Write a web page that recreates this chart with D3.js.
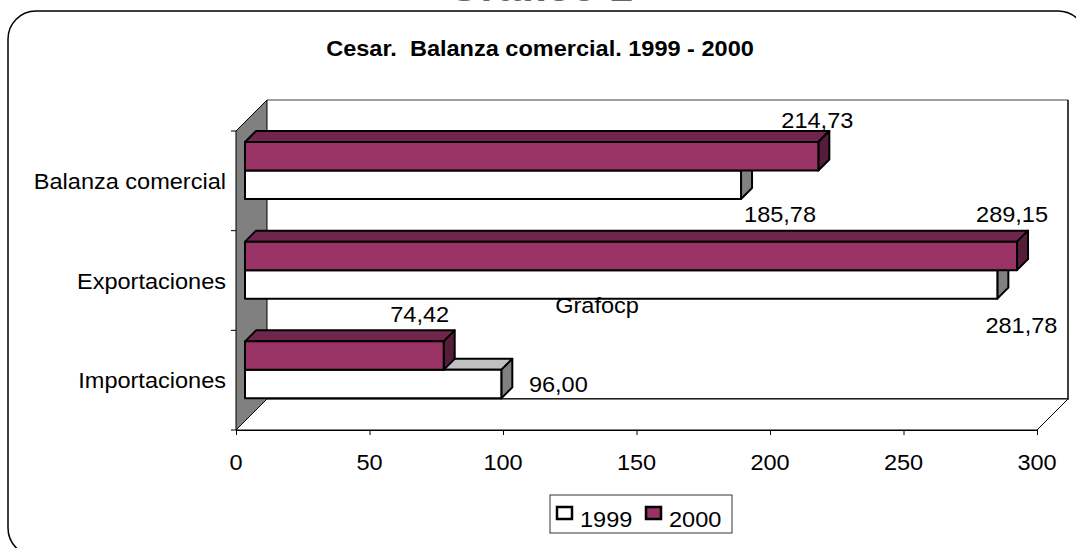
<!DOCTYPE html>
<html>
<head>
<meta charset="utf-8">
<script src="https://cdn.jsdelivr.net/npm/d3@7"></script>
<style>
	body { margin: 0; background: #fff; }
	svg { display: block; font-family: "Liberation Sans", Arial, sans-serif; }
	text { white-space: pre; }
</style>
</head>
<body>
<div id="plot"></div>
<script>
// chart values
var categories = ["Balanza comercial", "Exportaciones", "Importaciones"];
var seriesNames = ["1999", "2000"];
var values1999 = [185.78, 281.78, 96.00];
var values2000 = [214.73, 289.15, 74.42];
var xTicks = [0, 50, 100, 150, 200, 250, 300];
var chartTitle = "Cesar.  Balanza comercial. 1999 - 2000";
var topText = "Gráfico 1";
var watermark = "Grafocp";

var fmt = function (v) { return d3.format(".2f")(v).replace(".", ","); };

var width = 1076, height = 548;
var sx = 1.07; // text is drawn a bit wider than tall
var fs = 22;

var svg = d3.select("#plot")
	.append("svg")
	.attr("width", width)
	.attr("height", height);

function txt(g, s, x, y, size, anchor, weight) {
	return g.append("text")
		.attr("transform", "translate(" + x + "," + y + ") scale(" + sx + ",1)")
		.attr("text-anchor", anchor || "start")
		.attr("font-size", size)
		.attr("font-weight", weight || "normal")
		.attr("fill", "#000")
		.attr("xml:space", "preserve")
		.text(s);
}

//outer frame, runs off the picture on the right and bottom
svg.append("rect")
	.attr("x", 8).attr("y", 11)
	.attr("width", 1078).attr("height", 545)
	.attr("rx", 28).attr("ry", 28)
	.attr("fill", "none").attr("stroke", "#000").attr("stroke-width", 1.5);

//heading above the frame, cut by the top of the picture as in the original
txt(svg, topText, 540, 1, 40, "middle", "bold").attr("fill", "#666");
txt(svg, chartTitle, 540, 56, fs, "middle", "bold");

//scales
var xScale = d3.scaleLinear().domain([0, 300]).range([236, 1037]);
var yScale = d3.scaleBand().domain(categories).range([131, 430]);
var inner = d3.scaleBand().domain(["2000", "1999"]).range([20, 77]);

var depth = 31;     // floor / wall depth
var barOff = 9;     // bar front plane offset into the depth
var barDepth = 11;  // bar thickness along depth

var x0 = xScale(0), x1 = xScale(300), yTop = yScale.range()[0], yBot = yScale.range()[1];

var walls = svg.append("g");

//back wall
walls.append("rect")
	.attr("x", x0 + depth).attr("y", yTop - depth)
	.attr("width", x1 - x0).attr("height", yBot - yTop)
	.attr("fill", "#fff");
walls.append("line")
	.attr("x1", x0 + depth).attr("x2", x1 + depth)
	.attr("y1", yTop - depth).attr("y2", yTop - depth)
	.attr("stroke", "#808080").attr("stroke-width", 1.5);
walls.append("polyline")
	.attr("points", [[x1 + depth, yTop - depth], [x1 + depth, yBot - depth], [x0 + depth, yBot - depth]].join(" "))
	.attr("fill", "none").attr("stroke", "#000").attr("stroke-width", 1.5);

//floor
walls.append("polygon")
	.attr("points", [[x0, yBot], [x1, yBot], [x1 + depth, yBot - depth], [x0 + depth, yBot - depth]].join(" "))
	.attr("fill", "#fff").attr("stroke", "#000").attr("stroke-width", 1);

//side wall
walls.append("polygon")
	.attr("points", [[x0, yTop], [x0 + depth, yTop - depth], [x0 + depth, yBot - depth], [x0, yBot]].join(" "))
	.attr("fill", "#808080").attr("stroke", "#000").attr("stroke-width", 1);

//x axis along the front edge of the floor
var xAxis = svg.append("g")
	.attr("transform", "translate(0," + yBot + ")")
	.call(d3.axisBottom(xScale).tickValues(xTicks).tickSize(5).tickSizeOuter(0).tickFormat(d3.format("d")));
xAxis.select(".domain").attr("stroke", "#000");
xAxis.selectAll("text").remove();
xTicks.forEach(function (t) { txt(svg, String(t), xScale(t), yBot + 40, fs, "middle"); });

//category axis ticks on the front edge of the side wall
var yTickVals = [yTop].concat(categories.map(function (c) { return yScale(c) + yScale.bandwidth(); }));
svg.append("g").selectAll("line")
	.data(yTickVals)
	.enter().append("line")
	.attr("x1", x0 - 5).attr("x2", x0)
	.attr("y1", function (d) { return d; }).attr("y2", function (d) { return d; })
	.attr("stroke", "#000");

categories.forEach(function (c) {
	txt(svg, c, 226, yScale(c) + yScale.bandwidth() / 2 + 8, fs, "end");
});

//bars
var colours = {
	"1999": { front: "#ffffff", top: "#c0c0c0", side: "#808080" },
	"2000": { front: "#993366", top: "#70264c", side: "#561d3a" }
};

function drawBar(g, cat, key, v) {
	var c = colours[key];
	var xa = xScale(0) + barOff, xb = xScale(v) + barOff;
	var ya = yScale(cat) + inner(key) - barOff, yb = ya + inner.bandwidth();
	var d = barDepth;
	function poly(pts, fill) {
		g.append("polygon").attr("points", pts.join(" ")).attr("fill", fill)
			.attr("stroke", "#000").attr("stroke-width", 2).attr("stroke-linejoin", "round");
	}
	poly([[xa, ya], [xa + d, ya - d], [xb + d, ya - d], [xb, ya]], c.top);
	poly([[xb, ya], [xb + d, ya - d], [xb + d, yb - d], [xb, yb]], c.side);
	poly([[xa, ya], [xb, ya], [xb, yb], [xa, yb]], c.front);
}

var bars = svg.append("g");
categories.forEach(function (cat, i) {
	drawBar(bars, cat, "1999", values1999[i]); // lower bar first, upper bar hides its top
	drawBar(bars, cat, "2000", values2000[i]);
});

//data labels, nudged the way they sit in the original
var nudge2000 = [[-1, -14], [-5, -20], [-24, -19]];
var nudge1999 = [[39, 23], [24, 34], [57, -6]];
var labels = svg.append("g");
categories.forEach(function (cat, i) {
	var top = yScale(cat) + inner("2000") - barOff;
	txt(labels, fmt(values2000[i]), xScale(values2000[i]) + barOff + nudge2000[i][0], top + nudge2000[i][1], fs, "middle");
	var bot = yScale(cat) + inner("1999") + inner.bandwidth() - barOff;
	txt(labels, fmt(values1999[i]), xScale(values1999[i]) + barOff + nudge1999[i][0], bot + nudge1999[i][1], fs, "middle");
});

txt(svg, watermark, 597, 313, fs, "middle");

//legend
var legend = svg.append("g");
legend.append("rect")
	.attr("x", 550).attr("y", 495).attr("width", 182).attr("height", 38)
	.attr("fill", "#fff").attr("stroke", "#333").attr("stroke-width", 1);
var legX = [557, 646];
seriesNames.forEach(function (s, i) {
	legend.append("rect")
		.attr("x", legX[i]).attr("y", 507).attr("width", 15).attr("height", 12)
		.attr("fill", colours[s].front).attr("stroke", "#000").attr("stroke-width", 2.5);
	txt(legend, s, legX[i] + 23, 527, fs, "start");
});
</script>
</body>
</html>
